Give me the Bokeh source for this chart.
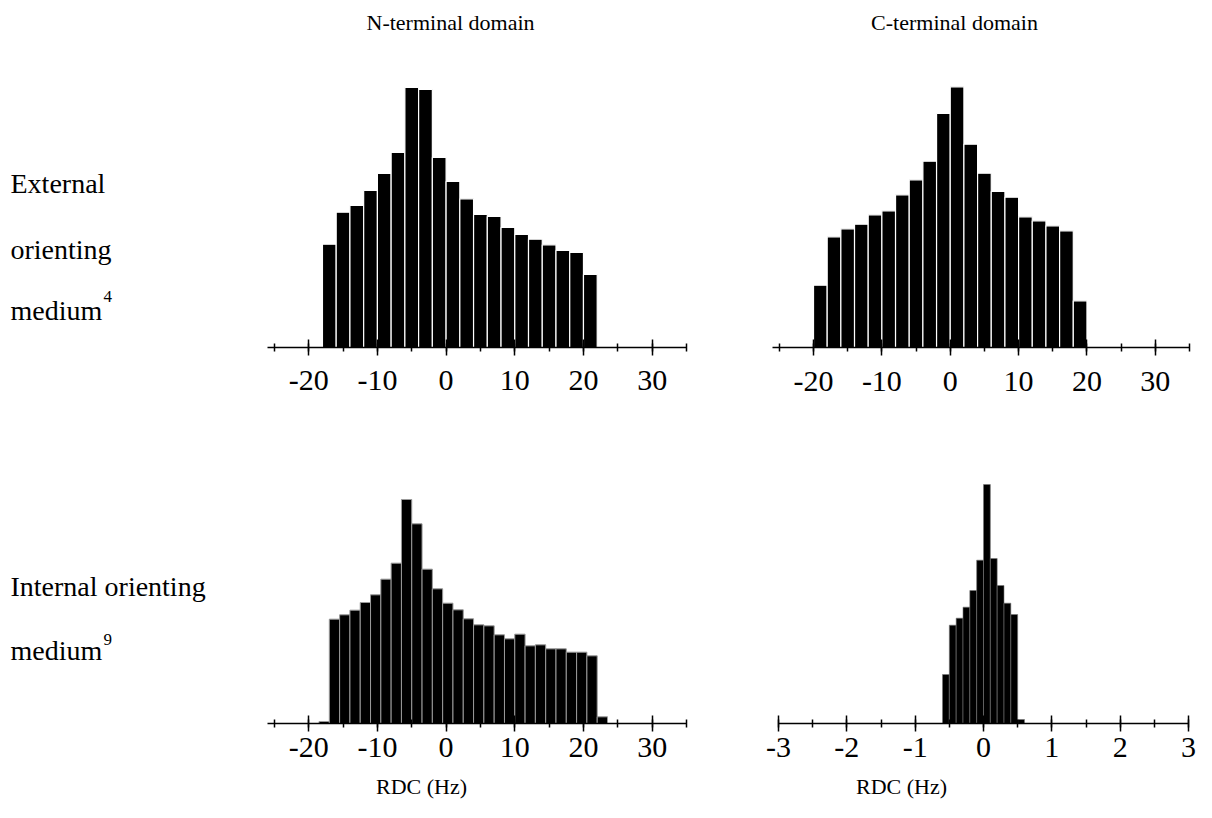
from bokeh.plotting import figure
from bokeh.layouts import row, column
from bokeh.models import Range1d, SingleIntervalTicker, PrintfTickFormatter
from bokeh.core.properties import value
from bokeh.embed import file_html
from bokeh.resources import INLINE

FONT = "Liberation Serif"

# ---------------- data (histogram counts) ----------------
# N-terminal domain, external orienting medium: bins of 2 Hz starting at -18
n_ext_start = -18.0
n_ext_bin = 2.0
n_ext_counts = [31.0, 40.6, 42.6, 47.1, 52.2, 58.5, 78.0, 77.4, 57.0, 49.8,
                44.6, 39.9, 39.3, 36.0, 33.9, 32.5, 30.8, 29.1, 28.5, 21.9]

# C-terminal domain, external orienting medium: bins of 2 Hz starting at -20
c_ext_start = -20.0
c_ext_bin = 2.0
c_ext_counts = [18.7, 33.2, 35.6, 37.0, 39.8, 41.0, 45.8, 50.3, 55.9, 70.2,
                78.2, 61.0, 52.3, 46.8, 45.1, 39.2, 38.0, 36.5, 35.0, 14.0]

# N-terminal domain, internal orienting medium: bins of 1.5 Hz starting at -18.5
n_int_start = -18.5
n_int_bin = 1.5
n_int_counts = [0.6, 31.3, 32.6, 34.0, 36.3, 38.6, 43.3, 48.1, 67.2, 59.9,
                46.3, 40.4, 36.1, 34.1, 31.4, 29.6, 29.3, 26.6, 25.4, 26.8,
                23.3, 23.6, 22.4, 22.4, 21.4, 21.4, 20.3, 2.0]

# C-terminal domain, internal orienting medium: bins of 0.1 Hz starting at -0.6
c_int_start = -0.6
c_int_bin = 0.1
c_int_counts = [14.7, 29.5, 31.6, 34.9, 39.9, 49.0, 71.7, 49.5, 41.4, 36.1,
                32.7, 1.2]

col_titles = ["N-terminal domain", "C-terminal domain"]
x_label = "RDC (Hz)"
row_labels_top = ["External", "orienting", "medium"]
row_labels_bottom = ["Internal orienting", "medium"]
row_sup = ["4", "9"]

UNITS_PER_PX = 0.3


def make_hist(counts, start, binw, xr, tick_interval, W, H, mbl, mbr, mbt, mbb,
              line_color="white", line_width=1.2, label_standoff=6):
    frame_h = H - mbt - mbb
    p = figure(width=W, height=H, x_range=Range1d(*xr),
               y_range=Range1d(0, frame_h * UNITS_PER_PX),
               output_backend="svg", toolbar_location=None,
               y_axis_location=None, x_axis_location="below",
               min_border_left=mbl, min_border_right=mbr,
               min_border_top=mbt, min_border_bottom=mbb)
    p.xgrid.grid_line_color = None
    p.ygrid.grid_line_color = None
    p.outline_line_color = None
    p.background_fill_color = "white"
    p.border_fill_color = "white"
    centers = [start + binw * (i + 0.5) for i in range(len(counts))]
    p.vbar(x=centers, top=counts, width=binw, bottom=0,
           fill_color="black", line_color=line_color, line_width=line_width)
    ax = p.xaxis[0]
    ax.ticker = SingleIntervalTicker(interval=tick_interval, num_minor_ticks=2)
    ax.formatter = PrintfTickFormatter(format="%d")
    ax.axis_line_color = "black"
    ax.axis_line_width = 1.5
    ax.major_tick_line_color = "black"
    ax.major_tick_line_width = 1.5
    ax.major_tick_in = 8
    ax.major_tick_out = 8
    ax.minor_tick_line_color = "black"
    ax.minor_tick_line_width = 1.5
    ax.minor_tick_in = 4
    ax.minor_tick_out = 4
    ax.major_label_text_font = FONT
    ax.major_label_text_font_size = "30px"
    ax.major_label_text_color = "black"
    ax.major_label_standoff = label_standoff
    return p


def text_strip(W, H, x0, y0):
    # a blank figure whose data units are page pixels
    s = figure(width=W, height=H, x_range=Range1d(x0, x0 + W), y_range=Range1d(y0 + H, y0),
               output_backend="svg", toolbar_location=None,
               x_axis_location=None, y_axis_location=None,
               min_border_left=0, min_border_right=0, min_border_top=0, min_border_bottom=0)
    s.xgrid.grid_line_color = None
    s.ygrid.grid_line_color = None
    s.outline_line_color = None
    return s


# page layout: left labels 0..248; plots 248..1196
# rows: titles 0..44, top plots 44..420, bottom plots 420..772, x labels 772..802
# (frames in one row are aligned by the layout, so each row shares its borders)
f1 = make_hist(n_ext_counts, n_ext_start, n_ext_bin, (-26, 35), 10,
               472, 376, 19, 34, 26, 73, label_standoff=15)
f2 = make_hist(c_ext_counts, c_ext_start, c_ext_bin, (-26, 35), 10,
               476, 376, 52, 7, 26, 73, label_standoff=16)
f3 = make_hist(n_int_counts, n_int_start, n_int_bin, (-26, 35), 10,
               472, 352, 19, 34, 50, 49, line_color="#9a9a9a", line_width=1.0)
f4 = make_hist(c_int_counts, c_int_start, c_int_bin, (-3, 3), 1,
               476, 352, 58, 8, 50, 49, line_color="#777777", line_width=0.6)

top = text_strip(948, 44, 248, 0)
top.text(x=[450, 954], y=[22, 22], text=col_titles,
         text_font=value(FONT), text_font_size="22px", text_color="black",
         text_baseline="middle", text_align="center")

bottom = text_strip(948, 30, 248, 772)
bottom.text(x=[421, 901], y=[786, 786], text=[x_label, x_label],
            text_font=value(FONT), text_font_size="22px", text_color="black",
            text_baseline="middle", text_align="center")

lab = text_strip(248, 802, 0, 0)
lab.text(x=[10, 10, 10], y=[183, 249, 310], text=row_labels_top,
         text_font=value(FONT), text_font_size="28px", text_color="black",
         text_baseline="alphabetic", text_align="left")
lab.text(x=[10, 10], y=[586, 650], text=row_labels_bottom,
         text_font=value(FONT), text_font_size="28px", text_color="black",
         text_baseline="alphabetic", text_align="left")
lab.text(x=[103, 103], y=[296, 639], text=row_sup,
         text_font=value(FONT), text_font_size="17px", text_color="black",
         text_baseline="alphabetic", text_align="left")

layout = row(lab, column(top, row(f1, f2), row(f3, f4), bottom))

open("out.html", "w").write(file_html(layout, INLINE))
